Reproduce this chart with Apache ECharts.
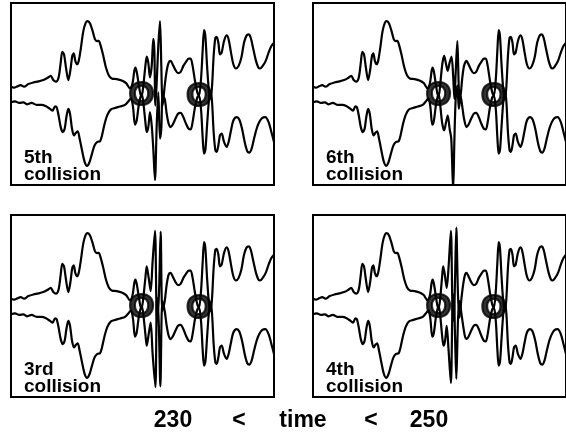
<!DOCTYPE html>
<html>
<head>
<meta charset="utf-8">
<script src="https://cdn.jsdelivr.net/npm/echarts@6.0.0/dist/echarts.min.js"></script>
<style>
html,body{margin:0;padding:0;background:#fff;}
#chart{width:566px;height:436px;}
</style>
</head>
<body>
<div id="chart"></div>
<script>
// time axis range and axis text
const timeRange = [230, 250];
const axisText = ['230', '<', 'time', '<', '250'];
const panelLabels = ['5th', '6th', '3rd', '4th'];

// common parts of the two traces (before first collision, after the second burst)
const upperLeft = [[230.00,0.084],[230.23,0.069],[230.48,0.084],[230.73,0.098],[230.99,0.080],[231.32,0.109],[231.70,0.127],[232.08,0.138],[232.46,0.153],[232.76,0.175],[233.02,0.200],[233.22,0.153],[233.42,0.135],[233.62,0.182],[233.78,0.345],[233.90,0.462],[234.03,0.436],[234.18,0.291],[234.36,0.153],[234.51,0.255],[234.66,0.418],[234.77,0.447],[234.89,0.364],[235.02,0.327],[235.15,0.364],[235.30,0.491],[235.50,0.691],[235.68,0.782],[235.83,0.800],[236.01,0.775],[236.21,0.691],[236.39,0.600],[236.54,0.582],[236.67,0.585],[236.79,0.545],[237.02,0.418],[237.22,0.291],[237.43,0.207],[237.66,0.171],[238.04,0.164],[238.42,0.149],[238.75,0.120],[239.05,0.062],[239.23,0.109],[239.38,0.255],[239.46,0.291],[239.56,0.244],[239.71,0.109],[239.84,0.000],[239.94,-0.018]];
const lowerLeft = [[230.00,-0.091],[230.30,-0.080],[230.63,-0.098],[230.94,-0.091],[231.24,-0.113],[231.57,-0.098],[231.95,-0.120],[232.33,-0.120],[232.66,-0.135],[232.97,-0.164],[233.17,-0.182],[233.35,-0.135],[233.47,-0.145],[233.62,-0.236],[233.78,-0.364],[233.93,-0.418],[234.08,-0.382],[234.21,-0.255],[234.36,-0.164],[234.49,-0.218],[234.64,-0.382],[234.79,-0.455],[234.94,-0.425],[235.07,-0.411],[235.22,-0.491],[235.40,-0.618],[235.60,-0.745],[235.78,-0.789],[235.96,-0.753],[236.16,-0.655],[236.36,-0.564],[236.57,-0.527],[236.77,-0.520],[236.92,-0.455],[237.12,-0.327],[237.33,-0.229],[237.58,-0.171],[237.91,-0.153],[238.29,-0.138],[238.67,-0.120],[238.97,-0.073],[239.13,-0.047],[239.28,-0.145],[239.43,-0.338],[239.56,-0.291],[239.71,-0.127],[239.84,-0.036],[239.94,0.000]];
const upperRight = [[242.14,0.364],[242.29,0.327],[242.50,0.265],[242.70,0.229],[242.90,0.244],[243.11,0.309],[243.31,0.353],[243.51,0.389],[243.66,0.389],[243.81,0.309],[243.99,0.145],[244.17,0.018],[244.30,-0.018],[244.45,0.164],[244.58,0.491],[244.68,0.702],[244.78,0.636],[244.91,0.309],[245.06,0.018],[245.18,-0.055],[245.29,0.091],[245.41,0.418],[245.54,0.618],[245.64,0.629],[245.77,0.564],[245.89,0.436],[246.02,0.455],[246.20,0.582],[246.40,0.644],[246.55,0.600],[246.73,0.455],[246.91,0.327],[247.11,0.280],[247.31,0.309],[247.52,0.400],[247.72,0.564],[247.92,0.644],[248.07,0.655],[248.23,0.618],[248.43,0.491],[248.63,0.364],[248.81,0.291],[248.94,0.280],[249.14,0.309],[249.37,0.364],[249.59,0.455],[249.80,0.527],[250.00,0.564]];
const lowerRight = [[242.14,-0.364],[242.29,-0.338],[242.50,-0.273],[242.70,-0.218],[242.90,-0.207],[243.11,-0.255],[243.31,-0.327],[243.51,-0.382],[243.66,-0.389],[243.81,-0.309],[243.99,-0.145],[244.17,-0.036],[244.30,-0.018],[244.45,-0.164],[244.58,-0.491],[244.68,-0.655],[244.78,-0.618],[244.91,-0.345],[245.06,-0.055],[245.18,0.036],[245.29,-0.091],[245.41,-0.418],[245.54,-0.618],[245.64,-0.636],[245.77,-0.564],[245.89,-0.455],[246.02,-0.436],[246.20,-0.527],[246.40,-0.582],[246.55,-0.527],[246.73,-0.400],[246.91,-0.291],[247.16,-0.255],[247.36,-0.280],[247.57,-0.382],[247.77,-0.527],[247.97,-0.629],[248.12,-0.644],[248.30,-0.600],[248.48,-0.491],[248.68,-0.382],[248.88,-0.309],[249.09,-0.265],[249.34,-0.255],[249.59,-0.309],[249.80,-0.418],[250.00,-0.527]];

// middle burst, different for each collision
const mid5Upper = [[240.06,0.091],[240.22,0.309],[240.32,0.411],[240.44,0.345],[240.57,0.182],[240.70,0.309],[240.82,0.607],[240.90,0.491],[240.98,-0.127],[241.08,0.127],[241.20,0.527],[241.33,0.800],[241.43,0.309],[241.53,-0.127],[241.69,0.091],[241.84,0.255],[241.99,0.345]];
const mid5Lower = [[240.06,-0.091],[240.22,-0.309],[240.32,-0.418],[240.44,-0.364],[240.57,-0.200],[240.70,-0.345],[240.82,-0.600],[240.95,-0.945],[241.08,-0.345],[241.20,0.018],[241.33,-0.491],[241.43,-0.382],[241.53,-0.018],[241.69,-0.055],[241.84,-0.218],[241.99,-0.327]];
const mid6Upper = [[240.06,0.109],[240.22,0.327],[240.37,0.418],[240.52,0.327],[240.65,0.255],[240.80,0.345],[240.95,0.411],[241.08,0.200],[241.18,-0.055],[241.28,0.236],[241.41,0.582],[241.53,0.055],[241.63,-0.055],[241.79,0.164],[241.94,0.309]];
const mid6Lower = [[240.06,-0.127],[240.22,-0.327],[240.37,-0.400],[240.52,-0.309],[240.65,-0.236],[240.80,-0.382],[240.93,-0.491],[241.08,-1.05],[241.18,-0.491],[241.28,-0.055],[241.41,0.091],[241.53,-0.164],[241.66,-0.018],[241.79,-0.127],[241.94,-0.273]];
const mid3Upper = [[240.06,0.091],[240.22,0.309],[240.32,0.436],[240.47,0.309],[240.62,0.164],[240.77,0.491],[240.95,0.825],[241.10,-0.164],[241.25,0.127],[241.38,0.818],[241.51,-0.055],[241.69,0.055],[241.84,0.236],[241.99,0.345]];
const mid3Lower = [[240.06,-0.091],[240.22,-0.309],[240.32,-0.436],[240.47,-0.309],[240.62,-0.182],[240.77,-0.527],[240.98,-0.891],[241.10,0.091],[241.23,-0.164],[241.36,-0.884],[241.51,0.055],[241.69,-0.055],[241.84,-0.218],[241.99,-0.327]];
const mid4Upper = [[240.06,0.091],[240.22,0.345],[240.29,0.436],[240.42,0.345],[240.57,0.200],[240.72,0.436],[240.90,0.825],[241.03,-0.055],[241.13,-0.164],[241.23,0.309],[241.33,0.862],[241.46,0.127],[241.58,-0.127],[241.74,0.091],[241.89,0.255],[242.02,0.345]];
const mid4Lower = [[240.06,-0.109],[240.22,-0.345],[240.32,-0.436],[240.44,-0.382],[240.57,-0.218],[240.72,-0.491],[240.90,-0.847],[241.03,0.018],[241.13,0.127],[241.23,-0.345],[241.33,-0.800],[241.46,-0.164],[241.58,0.055],[241.74,-0.091],[241.89,-0.236],[242.02,-0.338]];

// collision markers
const collisionTimes = [239.93, 244.30];
const collisionY = [-0.02, -0.03];

const panels = [
  {label: panelLabels[0], up: mid5Upper, lo: mid5Lower, left: 11, top: 3},
  {label: panelLabels[1], up: mid6Upper, lo: mid6Lower, left: 313, top: 3},
  {label: panelLabels[2], up: mid3Upper, lo: mid3Lower, left: 11, top: 215},
  {label: panelLabels[3], up: mid4Upper, lo: mid4Lower, left: 313, top: 215}
];

const FONT = '"Liberation Sans", Arial, Helvetica, sans-serif';
const grid = [], xAxis = [], yAxis = [], series = [], graphic = [];
panels.forEach((p, i) => {
  grid.push({left: p.left, top: p.top, width: 263, height: 182, show: true,
    borderColor: '#000', borderWidth: 2, backgroundColor: 'transparent'});
  xAxis.push({type: 'value', gridIndex: i, min: timeRange[0], max: timeRange[1], show: false});
  yAxis.push({type: 'value', gridIndex: i, min: -1, max: 1, show: false});
  [[...upperLeft, ...p.up, ...upperRight], [...lowerLeft, ...p.lo, ...lowerRight]].forEach(d => {
    series.push({type: 'line', xAxisIndex: i, yAxisIndex: i, data: d, symbol: 'none',
      smooth: 0.3, clip: true, lineStyle: {color: '#000', width: 2.2}, silent: true, animation: false});
  });
  series.push({type: 'scatter', xAxisIndex: i, yAxisIndex: i, z: 5,
    data: collisionTimes.map((t, k) => [t, collisionY[k]]),
    symbolSize: 1, itemStyle: {color: 'rgba(0,0,0,0)'}, animation: false, silent: true,
    label: {show: true, position: 'inside', formatter: 'O', color: '#000',
      fontSize: 33, fontWeight: 'bold', fontFamily: FONT,
      textBorderColor: '#000', textBorderWidth: 2.2}});
  graphic.push({type: 'text', left: p.left + 13, top: p.top + 145, z: 10,
    style: {text: p.label + '\ncollision', font: 'bold 19px ' + FONT, fill: '#000', lineHeight: 17}});
});

const axisTextX = [173, 239, 303, 371, 429];
axisText.forEach((t, k) => {
  graphic.push({type: 'text', x: axisTextX[k], y: 421,
    style: {text: t, font: 'bold 23px ' + FONT, fill: '#000', align: 'center', verticalAlign: 'middle'}});
});

const chart = echarts.init(document.getElementById('chart'), null, {renderer: 'canvas'});
chart.setOption({animation: false, backgroundColor: '#fff', grid, xAxis, yAxis, series, graphic});
</script>
</body>
</html>
